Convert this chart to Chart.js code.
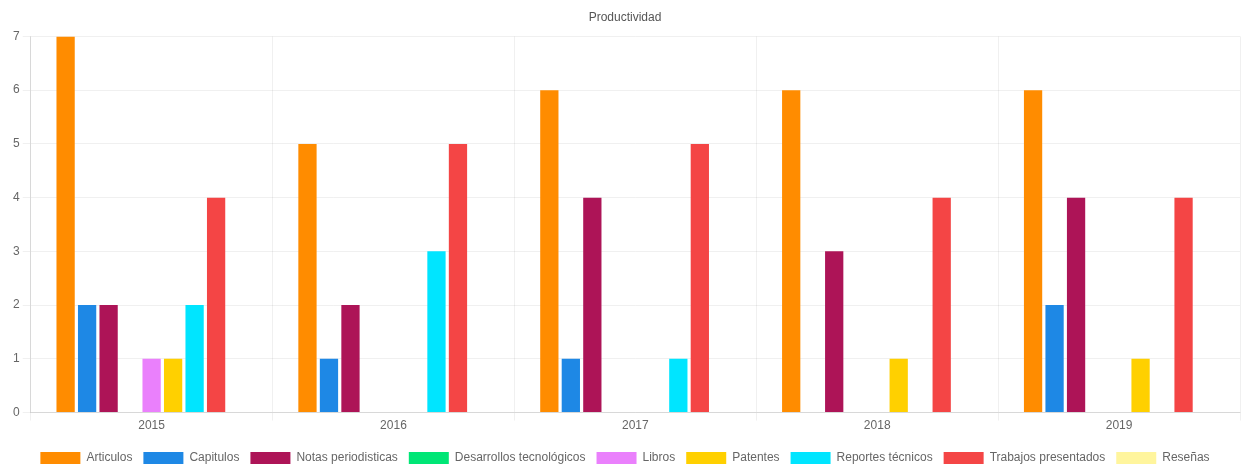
<!DOCTYPE html>
<html>
<head>
<meta charset="utf-8">
<script src="https://cdn.jsdelivr.net/npm/chart.js@4/dist/chart.umd.min.js"></script>
<style>
  html, body { margin: 0; padding: 0; background: #fff; }
  #wrap { width: 1244px; height: 464px; }
</style>
</head>
<body>
<div id="wrap"><canvas id="prodChart"></canvas></div>
<script>
// productividad por año

const years = ["2015", "2016", "2017", "2018", "2019"];

const articulos = [7, 5, 6, 6, 6];
const capitulos = [2, 1, 1, 0, 2];
const notasPeriodisticas = [2, 2, 4, 3, 4];
const desarrollosTecnologicos = [0, 0, 0, 0, 0];
const libros = [1, 0, 0, 0, 0];
const patentes = [1, 0, 0, 1, 1];
const reportesTecnicos = [2, 3, 1, 0, 0];
const trabajosPresentados = [4, 5, 5, 4, 4];
const resenas = [0, 0, 0, 0, 0];

const seriesNames = ["Articulos", "Capitulos", "Notas periodisticas", "Desarrollos tecnológicos", "Libros", "Patentes", "Reportes técnicos", "Trabajos presentados", "Reseñas"];
const seriesData = [articulos, capitulos, notasPeriodisticas, desarrollosTecnologicos, libros, patentes, reportesTecnicos, trabajosPresentados, resenas];
const palette = ["#ff8c00", "#1e88e5", "#ad1457", "#00e676", "#ea80fc", "#ffd000", "#00e5ff", "#f44545", "#fff59d"];

Chart.defaults.font.family = "'Liberation Sans', Arial, sans-serif";
Chart.defaults.font.size = 12;
Chart.defaults.color = "#666";

new Chart(document.getElementById("prodChart"), {
  type: "bar",
  data: {
    labels: years,
    datasets: seriesNames.map((name, i) => ({
      label: name,
      data: seriesData[i],
      backgroundColor: palette[i],
      borderWidth: 0,
      categoryPercentage: 0.8,
      barPercentage: 0.85,
    })),
  },
  options: {
    responsive: true,
    maintainAspectRatio: false,
    animation: false,
    layout: { padding: { left: 10, right: 4, top: 0, bottom: -10 } },
    scales: {
      x: {
        grid: { color: "rgba(0,0,0,0.06)", offset: true },
        ticks: { color: "#666", padding: -2 },
        afterFit: (scale) => { scale.height += 10; },
      },
      y: {
        min: 0,
        max: 7,
        grid: { color: "rgba(0,0,0,0.06)" },
        ticks: { stepSize: 1, color: "#666" },
      },
    },
    plugins: {
      title: { display: true, text: "Productividad", font: { size: 12, weight: "normal" }, color: "#555", padding: { top: 10, bottom: 12 } },
      legend: {
        position: "bottom",
        labels: { boxWidth: 40, color: "#666", padding: 11 },
      },
    },
  },
});
</script>
</body>
</html>
